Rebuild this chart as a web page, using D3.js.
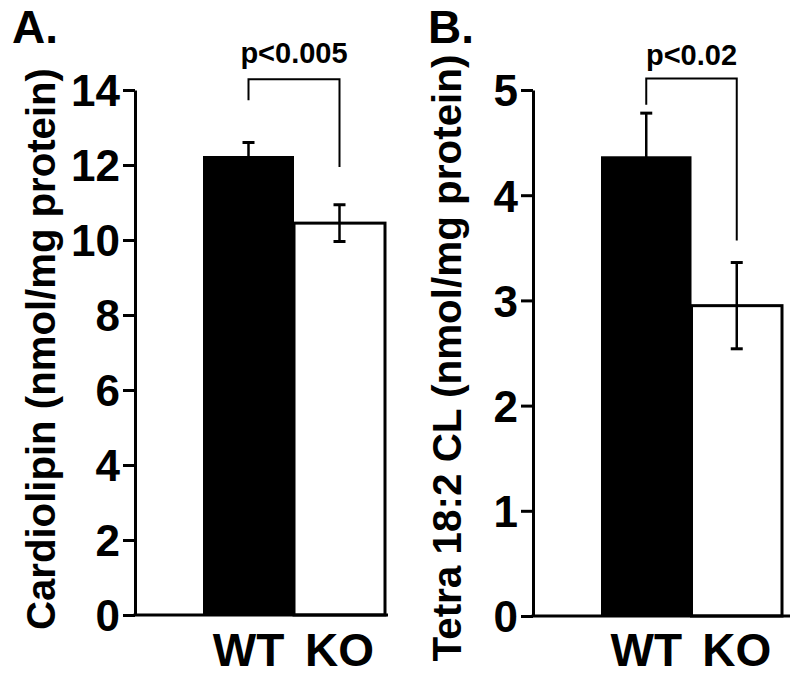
<!DOCTYPE html>
<html>
<head>
<meta charset="utf-8">
<script src="https://cdn.jsdelivr.net/npm/d3@7"></script>
<style>
  html, body { margin: 0; padding: 0; background: #fff; }
  text { font-family: "Liberation Sans", Arial, Helvetica, sans-serif; font-weight: bold; fill: #000; }
</style>
</head>
<body>
<svg id="chart" width="800" height="680"></svg>
<script>
// ---- data ----
const groups = ["WT", "KO"];
const cardiolipinMean = [12.24, 10.45];
const cardiolipinSem = [0.36, 0.49];
const cardiolipinTicks = [0, 2, 4, 6, 8, 10, 12, 14];
const tetraMean = [4.37, 2.95];
const tetraSem = [0.41, 0.41];
const tetraTicks = [0, 1, 2, 3, 4, 5];
// significance brackets: [left end, top, right end] in data units
const bracketA = [13.73, 14.29, 11.95];
const bracketB = [4.86, 5.11, 3.57];
const pLabels = ["p<0.005", "p<0.02"];
const panelLabels = ["A.", "B."];
const yTitles = ["Cardiolipin (nmol/mg protein)", "Tetra 18:2 CL (nmol/mg protein)"];

const svg = d3.select("#chart");

const panels = [
  { label: panelLabels[0], title: yTitles[0], mean: cardiolipinMean, sem: cardiolipinSem, ticks: cardiolipinTicks,
    max: 14, axisX: 135, y0: 615, yTop: 90, barL: 203, barR: 385, axisEnd: 388,
    bracket: bracketA, p: pLabels[0], labelX: 12, titleX: 55, titleLen: 562, titleMid: 349, pY: 63 },
  { label: panelLabels[1], title: yTitles[1], mean: tetraMean, sem: tetraSem, ticks: tetraTicks,
    max: 5, axisX: 533, y0: 616, yTop: 90, barL: 601, barR: 782, axisEnd: 790,
    bracket: bracketB, p: pLabels[1], labelX: 428, titleX: 461, titleLen: 607, titleMid: 358, pY: 65 }
];

panels.forEach(P => {
  const g = svg.append("g");
  const y = d3.scaleLinear().domain([0, P.max]).range([P.y0, P.yTop]);
  const x = d3.scaleBand().domain(groups).range([P.barL, P.barR]).padding(0);

  // y axis
  const ax = g.append("g")
    .attr("transform", `translate(${P.axisX},0)`)
    .call(d3.axisLeft(y).tickValues(P.ticks).tickSize(12).tickSizeOuter(0).tickPadding(3).tickFormat(d3.format("d")));
  ax.select(".domain").attr("stroke", "#000").attr("stroke-width", 3);
  ax.selectAll(".tick line").attr("stroke", "#000").attr("stroke-width", 3);
  ax.selectAll(".tick text").attr("font-size", 44).attr("font-family", "Liberation Sans, Arial, sans-serif")
    .attr("font-weight", "bold").attr("fill", "#000").attr("dy", "0.36em");

  // bars
  g.selectAll("rect.bar").data(groups).enter().append("rect")
    .attr("x", d => x(d))
    .attr("y", (d, i) => y(P.mean[i]))
    .attr("width", x.bandwidth())
    .attr("height", (d, i) => y(0) - y(P.mean[i]))
    .attr("fill", (d, i) => i === 0 ? "#000" : "#fff")
    .attr("stroke", "#000")
    .attr("stroke-width", (d, i) => i === 0 ? 0 : 3);

  // error bars
  const eb = g.selectAll("g.err").data(groups).enter().append("g");
  eb.append("line")
    .attr("x1", d => x(d) + x.bandwidth() / 2).attr("x2", d => x(d) + x.bandwidth() / 2)
    .attr("y1", (d, i) => y(P.mean[i] - P.sem[i])).attr("y2", (d, i) => y(P.mean[i] + P.sem[i]))
    .attr("stroke", "#000").attr("stroke-width", 2.5);
  [1, -1].forEach(s => {
    eb.append("line")
      .attr("x1", d => x(d) + x.bandwidth() / 2 - 6).attr("x2", d => x(d) + x.bandwidth() / 2 + 6)
      .attr("y1", (d, i) => y(P.mean[i] + s * P.sem[i])).attr("y2", (d, i) => y(P.mean[i] + s * P.sem[i]))
      .attr("stroke", "#000").attr("stroke-width", 3);
  });

  // x axis baseline
  g.append("line").attr("x1", P.axisX - 1.5).attr("x2", P.axisEnd)
    .attr("y1", y(0)).attr("y2", y(0)).attr("stroke", "#000").attr("stroke-width", 3);

  // category labels
  g.selectAll("text.cat").data(groups).enter().append("text")
    .attr("x", d => x(d) + x.bandwidth() / 2)
    .attr("y", 666)
    .attr("text-anchor", "middle")
    .attr("font-size", 46)
    .text(d => d);

  // bracket
  const cx = groups.map(d => x(d) + x.bandwidth() / 2);
  g.append("path")
    .attr("d", `M${cx[0]},${y(P.bracket[0])}V${y(P.bracket[1])}H${cx[1]}V${y(P.bracket[2])}`)
    .attr("fill", "none").attr("stroke", "#000").attr("stroke-width", 2);
  g.append("text")
    .attr("x", (cx[0] + cx[1]) / 2 + 0)
    .attr("y", P.pY)
    .attr("text-anchor", "middle")
    .attr("font-size", 29)
    .text(P.p);

  // panel label
  g.append("text").attr("x", P.labelX).attr("y", 43).attr("font-size", 46).text(P.label);

  // y title
  g.append("text")
    .attr("transform", `translate(${P.titleX},${P.titleMid}) rotate(-90)`)
    .attr("text-anchor", "middle")
    .attr("font-size", 40)
    .attr("textLength", P.titleLen)
    .attr("lengthAdjust", "spacingAndGlyphs")
    .text(P.title);
});
</script>
</body>
</html>
